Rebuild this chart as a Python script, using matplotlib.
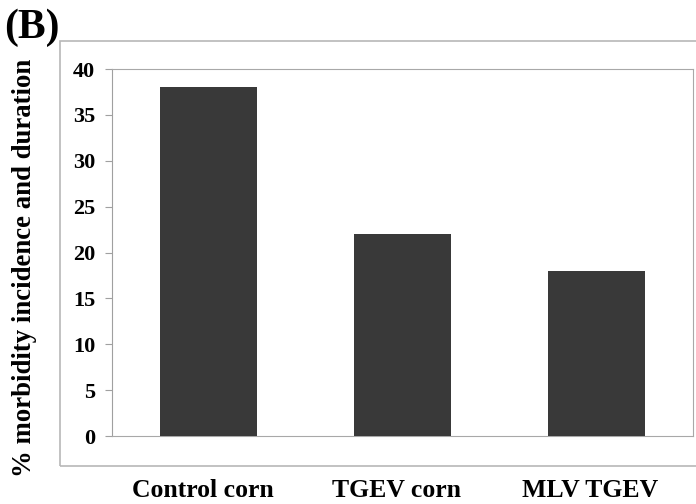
import matplotlib.pyplot as plt
from matplotlib.patches import Rectangle
from matplotlib.transforms import ScaledTranslation

categories = ['Control corn', 'TGEV corn', 'MLV TGEV']
morbidity = [38, 22, 18]
yticks = [0, 5, 10, 15, 20, 25, 30, 35, 40]

plt.rcParams['font.family'] = ['Liberation Serif', 'DejaVu Serif']
plt.rcParams['font.weight'] = 'bold'

fig = plt.figure(figsize=(6.96, 5.04), dpi=100)
W, H = 696, 504

# outer chart frame
fig.patches.append(Rectangle((60 / W, (H - 466) / H), 700 / W, 425 / H,
                             transform=fig.transFigure, fill=False,
                             edgecolor='#b8b8b8', linewidth=1.2))

ax = fig.add_axes([112 / W, (H - 436) / H, 581 / W, 367 / H])
x = range(len(categories))
ax.bar(x, morbidity, width=0.5, color='#393939', zorder=3)

ax.set_xlim(-0.5, len(categories) - 0.5)
ax.set_ylim(0, 40)
ax.set_yticks(yticks)
ax.set_yticklabels([str(t) for t in yticks], fontsize=16, fontweight='bold')
ax.set_xticks(list(x))
ax.set_xticklabels(categories, fontsize=18.5, fontweight='bold')
ax.tick_params(axis='x', length=0, pad=31)
ax.tick_params(axis='y', direction='out', length=5, color='#a0a0a0',
               width=0.8, pad=7)

# category labels sit slightly left of the bar centres in the original
shift = ScaledTranslation(-6 / 100, 0, fig.dpi_scale_trans)
for lbl in ax.get_xticklabels():
    lbl.set_transform(lbl.get_transform() + shift)

ax.spines['left'].set_color('#a0a0a0')
for side in ['top', 'right', 'bottom']:
    ax.spines[side].set_color('#a8a8a8')
    ax.spines[side].set_linestyle((0, (2, 1)))
    ax.spines[side].set_linewidth(0.8)

fig.text(25 / W, 1 - 268 / H, '% morbidity incidence and duration',
         fontsize=19.3, fontweight='bold', rotation=90,
         ha='center', va='center')

fig.text(4 / W, 1 - 38 / H, '(B)', fontsize=30, fontweight='bold')

fig.savefig('out.png', dpi=100)
